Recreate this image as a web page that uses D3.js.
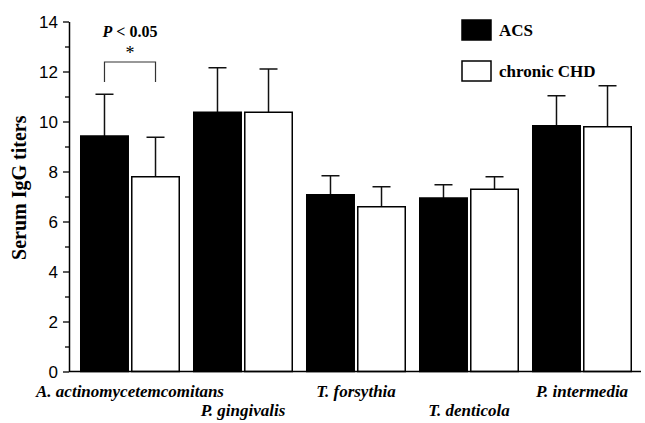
<!DOCTYPE html>
<html>
<head>
<meta charset="utf-8">
<script src="https://cdn.jsdelivr.net/npm/d3@7"></script>
<style>
  body { margin: 0; background: #fff; }
  svg { display: block; }
  .tick text { font-family: "Liberation Sans Narrow", "Arial Narrow", "Liberation Sans", sans-serif; font-size: 17px; }
</style>
</head>
<body>
<div id="chart"></div>
<script>
var width = 645, height = 423;

// data
var bacteria = ["A. actinomycetemcomitans", "P. gingivalis", "T. forsythia", "T. denticola", "P. intermedia"];
var groups = ["ACS", "chronic CHD"];
var acsMean = [9.42, 10.37, 7.07, 6.94, 9.83];
var acsErr = [11.09, 12.15, 7.83, 7.47, 11.03];
var chdMean = [7.79, 10.37, 6.59, 7.29, 9.79];
var chdErr = [9.37, 12.1, 7.39, 7.79, 11.43];
var yTicks = [0, 2, 4, 6, 8, 10, 12, 14];

var data = [];
bacteria.forEach(function(b, i) {
    data.push({ name: b, group: "ACS", value: acsMean[i], err: acsErr[i] });
    data.push({ name: b, group: "chronic CHD", value: chdMean[i], err: chdErr[i] });
});

var svg = d3.select("#chart")
    .append("svg")
    .attr("width", width)
    .attr("height", height);

var x = d3.scaleBand()
    .domain(bacteria)
    .range([73.5, 638.5])
    .paddingInner(0.115)
    .paddingOuter(0.0575);

var xSub = d3.scaleBand()
    .domain(groups)
    .range([0, x.bandwidth()])
    .paddingInner(0.04);

var y = d3.scaleLinear()
    .domain([0, 14])
    .range([371.5, 21.5]);

var axisX = 69;

// y axis with major and minor ticks
var yAxis = svg.append("g")
    .attr("transform", "translate(" + axisX + ",0)")
    .call(d3.axisLeft(y).tickValues(yTicks).tickSize(6).tickPadding(5).tickSizeOuter(0));
yAxis.select(".domain").attr("stroke-width", 1.5);
yAxis.selectAll(".tick line").attr("stroke-width", 1.3);
yAxis.selectAll(".tick text").attr("dy", "0.36em");

svg.append("g")
    .attr("transform", "translate(" + axisX + ",0)")
    .call(d3.axisLeft(y).tickValues(d3.range(1, 14, 2)).tickSize(4).tickFormat(""))
    .call(function(g) { g.select(".domain").remove(); })
    .selectAll(".tick line").attr("stroke-width", 1.3);

// error bars (upper only)
var err = svg.append("g");
err.selectAll("line.stem")
    .data(data)
    .enter()
    .append("line")
    .attr("x1", function(d) { return x(d.name) + xSub(d.group) + xSub.bandwidth() / 2; })
    .attr("x2", function(d) { return x(d.name) + xSub(d.group) + xSub.bandwidth() / 2; })
    .attr("y1", function(d) { return y(d.value); })
    .attr("y2", function(d) { return y(d.err); })
    .attr("stroke", "#111")
    .attr("stroke-width", 1.5);
err.selectAll("line.cap")
    .data(data)
    .enter()
    .append("line")
    .attr("x1", function(d) { return x(d.name) + xSub(d.group) + xSub.bandwidth() / 2 - 9; })
    .attr("x2", function(d) { return x(d.name) + xSub(d.group) + xSub.bandwidth() / 2 + 9; })
    .attr("y1", function(d) { return y(d.err); })
    .attr("y2", function(d) { return y(d.err); })
    .attr("stroke", "#111")
    .attr("stroke-width", 1.5);

// bars
svg.append("g")
    .selectAll("rect")
    .data(data)
    .enter()
    .append("rect")
    .attr("x", function(d) { return x(d.name) + xSub(d.group) + 0.75; })
    .attr("y", function(d) { return y(d.value); })
    .attr("width", xSub.bandwidth() - 1.5)
    .attr("height", function(d) { return y(0) - y(d.value); })
    .style("fill", function(d) { return d.group == "ACS" ? "#000" : "#fff"; })
    .style("stroke", "#000")
    .style("stroke-width", 1.5);

// baseline
svg.append("line")
    .attr("x1", axisX)
    .attr("x2", 641)
    .attr("y1", y(0))
    .attr("y2", y(0))
    .attr("stroke", "#000")
    .attr("stroke-width", 1.5);

// category labels, staggered on two rows
svg.append("g")
    .selectAll("text")
    .data(bacteria)
    .enter()
    .append("text")
    .attr("x", function(d) { return x(d) + x.bandwidth() / 2; })
    .attr("y", function(d, i) { return i % 2 == 0 ? 397 : 416; })
    .attr("text-anchor", "middle")
    .style("font-family", "'Liberation Serif', 'Times New Roman', serif")
    .style("font-weight", "bold")
    .style("font-style", "italic")
    .style("font-size", "17px")
    .text(function(d) { return d; });

// y label
svg.append("text")
    .attr("transform", "translate(26," + y(7.35) + ") rotate(-90)")
    .attr("text-anchor", "middle")
    .style("font-family", "'Liberation Serif', 'Times New Roman', serif")
    .style("font-weight", "bold")
    .style("font-size", "20px")
    .text("Serum IgG titers");

// significance bracket
var b1 = x(bacteria[0]) + xSub("ACS") + xSub.bandwidth() / 2;
var b2 = x(bacteria[0]) + xSub("chronic CHD") + xSub.bandwidth() / 2;
svg.append("path")
    .attr("d", "M" + b1 + "," + y(11.58) + "V" + y(12.38) + "H" + b2 + "V" + y(11.58))
    .attr("fill", "none")
    .attr("stroke", "#333")
    .attr("stroke-width", 1.2);

svg.append("text")
    .attr("x", (b1 + b2) / 2)
    .attr("y", 59)
    .attr("text-anchor", "middle")
    .style("font-family", "'Liberation Serif', 'Times New Roman', serif")
    .style("font-size", "18px")
    .text("*");

var pText = svg.append("text")
    .attr("x", (b1 + b2) / 2)
    .attr("y", 37)
    .attr("text-anchor", "middle")
    .style("font-family", "'Liberation Serif', 'Times New Roman', serif")
    .style("font-weight", "bold")
    .style("font-size", "16px");
pText.append("tspan").style("font-style", "italic").text("P");
pText.append("tspan").text(" < 0.05");

// legend
var legend = svg.append("g")
    .selectAll("g")
    .data(groups)
    .enter()
    .append("g")
    .attr("transform", function(d, i) { return "translate(462," + (20 + i * 41) + ")"; });
legend.append("rect")
    .attr("width", 29)
    .attr("height", 20)
    .style("fill", function(d) { return d == "ACS" ? "#000" : "#fff"; })
    .style("stroke", "#000")
    .style("stroke-width", 1.5);
legend.append("text")
    .attr("x", 37)
    .attr("y", 16)
    .style("font-family", "'Liberation Serif', 'Times New Roman', serif")
    .style("font-weight", "bold")
    .style("font-size", "17px")
    .text(function(d) { return d; });
</script>
</body>
</html>
